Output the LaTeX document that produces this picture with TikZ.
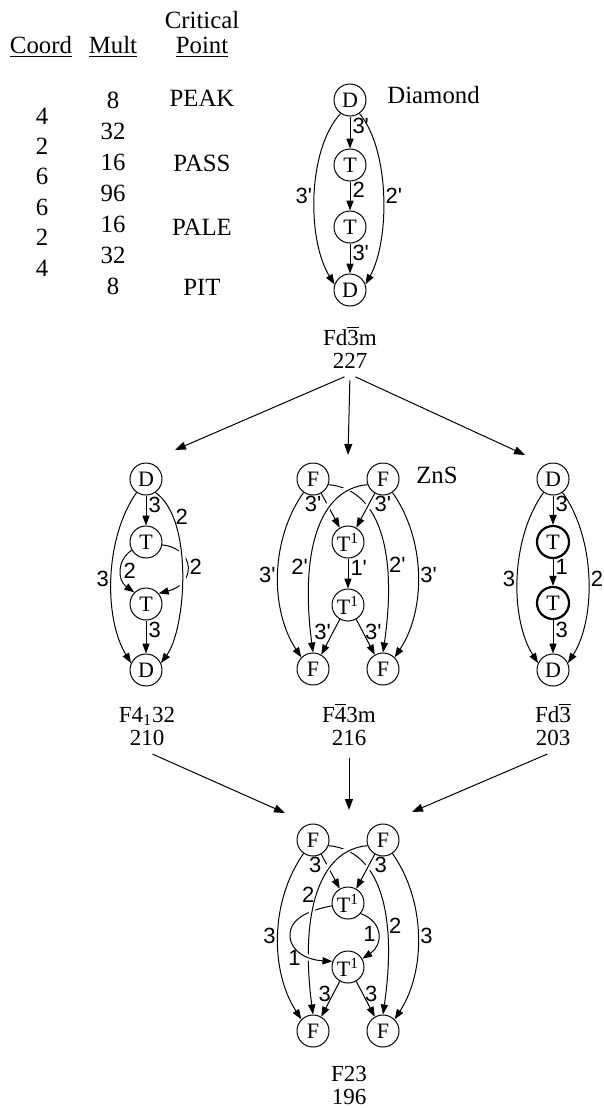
\documentclass[tikz,border=0pt]{standalone}
\usepackage{fontspec}
\setmainfont{Liberation Serif}
\setsansfont{Liberation Sans}
\usetikzlibrary{arrows.meta}

\newcommand\barred[1]{$\overline{\mbox{#1}}$}
\newcommand\pr{\textquotesingle}

\tikzset{
  site/.style={circle,draw,line width=0.5pt,minimum size=16pt,inner sep=0pt,
    font=\fontsize{11}{11}\selectfont},
  heavy/.style={site,line width=1.1pt},
  bond/.style={line width=0.5pt,-{Triangle[length=5pt,width=3.6pt]}},
  bridge/.style={preaction={draw,white,line width=3pt,-,shorten <=2.5pt,shorten >=2.5pt}},
  wt/.style={font=\fontsize{11}{11}\sffamily,inner sep=1pt},
  num/.style={font=\fontsize{12.4}{12.4}\selectfont,inner sep=0pt},
  head/.style={num,anchor=base},
  group/.style={align=center,anchor=base,inner sep=3pt,
    font=\fontsize{11.5}{11.5}\selectfont},
  subgroup/.style={line width=0.5pt,-{Triangle[length=5.5pt,width=4pt]},shorten <=3pt}
}

\begin{document}
\begin{tikzpicture}[x=0.5pt,y=-0.5pt]
\useasboundingbox (0,0) rectangle (604,1108);

% critical point table
\node[head] (coord) at (41,53) {\underline{Coord}};
\node[head] (mult) at (113,53) {\underline{Mult}};
\node[head] (crit) at (202,28) {Critical};
\node[head] (point) at (202,53) {\underline{Point}};
\foreach \c [count=\i from 0] in {4,2,6,6,2,4}
  \node[num] (coord\i) at (42,116+30.4*\i) {\c};
\foreach \m [count=\i from 0] in {8,32,16,96,16,32,8}
  \node[num] (mult\i) at (113,100+31.1*\i) {\m};
\foreach \p/\y in {PEAK/98,PASS/163,PALE/227,PIT/287}
  \node[num] (\p) at (202,\y) {\p};

% Fd-3m (diamond)
\begin{scope}[shift={(350,100)}]
  \node[site] (D227a) at (0,0) {D};
  \node[site] (T227a) at (0,65) {T};
  \node[site] (T227b) at (0,127) {T};
  \node[site] (D227b) at (0,190) {D};
  \draw[bond] (D227a) -- node[wt,right,pos=0.3] {3\pr} (T227a);
  \draw[bond] (T227a) -- node[wt,right,pos=0.3] {2} (T227b);
  \draw[bond] (T227b) -- node[wt,right,pos=0.3] {3\pr} (D227b);
  \draw[bond] (D227a.235) .. controls (-43,50) and (-43,140) .. node[wt,left] {3\pr} (D227b.160);
  \draw[bond] (D227a.-55) .. controls (40,50) and (40,140) .. node[wt,right] {2\pr} (D227b.20);
\end{scope}
\node[num,anchor=west] (diamond) at (387,95) {Diamond};
\node[group] (g227) at (350,368) {Fd\barred{3}m\\227};

% F4_132
\begin{scope}[shift={(146,479)}]
  \node[site] (D210a) at (0,0) {D};
  \node[site] (T210a) at (0,63) {T};
  \node[site] (T210b) at (0,125) {T};
  \node[site] (D210b) at (0,191) {D};
  \draw[bond] (D210a) -- node[wt,right,pos=0.3] {3} (T210a);
  \draw[bond] (T210b) -- node[wt,right,pos=0.3] {3} (D210b);
  \draw[bond] (T210a.210) .. controls (-29,81) and (-29,101) .. node[wt,right] {2} (T210b.135);
  \draw[bond] (T210a.-10) .. controls (50,70) and (50,105) .. node[wt,right] {2} (T210b.40);
  \draw[bond] (D210a.235) .. controls (-42,60) and (-42,140) .. node[wt,left] {3} (D210b.155);
  \draw[bond,bridge] (D210a.-55) .. controls (48,40) and (40,150) .. node[wt,right,pos=0.2] {2} (D210b.25);
\end{scope}
\node[group] (g210) at (147,745) {F4\textsubscript{1}32\\210};

% F-43m (ZnS)
\begin{scope}[shift={(348,479)}]
  \node[site] (F216a) at (-35,0) {F};
  \node[site] (F216b) at (35,0) {F};
  \node[site] (T216a) at (0,63) {T\textsuperscript{1}};
  \node[site] (T216b) at (0,126) {T\textsuperscript{1}};
  \node[site] (F216c) at (-35,190) {F};
  \node[site] (F216d) at (35,190) {F};
  \draw[bond] (F216a.-20) .. controls (30,10) and (50,70) .. node[wt,right,pos=0.67] {2\pr} (F216d.north);
  \draw[bond] (F216a.-60) -- node[wt,left=1.5pt,pos=0.3] {3\pr} (T216a.120);
  \draw[bond,bridge] (F216b.240) -- node[wt,right=1.5pt,pos=0.3] {3\pr} (T216a.60);
  \draw[bond,bridge] (F216b.200) .. controls (-30,10) and (-48,75) .. node[wt,left,pos=0.67] {2\pr} (F216c.north);
  \draw[bond] (F216a.235) .. controls (-78,61) and (-78,131) .. node[wt,left] {3\pr} (F216c.135);
  \draw[bond] (F216b.-55) .. controls (78,61) and (78,131) .. node[wt,right] {3\pr} (F216d.45);
  \draw[bond] (T216a) -- node[wt,right,pos=0.3] {1\pr} (T216b);
  \draw[bond] (T216b.240) -- node[wt,left,pos=0.35] {3\pr} (F216c.60);
  \draw[bond] (T216b.-60) -- node[wt,right,pos=0.35] {3\pr} (F216d.120);
\end{scope}
\node[num] (zns) at (437,475) {ZnS};
\node[group] (g216) at (349,745) {F\barred{4}3m\\216};

% Fd-3
\begin{scope}[shift={(553,479)}]
  \node[site] (D203a) at (0,0) {D};
  \node[heavy] (T203a) at (0,63) {T};
  \node[heavy] (T203b) at (0,124) {T};
  \node[site] (D203b) at (0,191) {D};
  \draw[bond] (D203a) -- node[wt,right,pos=0.3] {3} (T203a);
  \draw[bond] (T203a) -- node[wt,right,pos=0.3] {1} (T203b);
  \draw[bond] (T203b) -- node[wt,right,pos=0.3] {3} (D203b);
  \draw[bond] (D203a.235) .. controls (-43,60) and (-43,140) .. node[wt,left] {3} (D203b.155);
  \draw[bond] (D203a.-55) .. controls (43,60) and (43,140) .. node[wt,right] {2} (D203b.25);
\end{scope}
\node[group] (g203) at (553,745) {Fd\barred{3}\\203};

% F23
\begin{scope}[shift={(348,840)}]
  \node[site] (F196a) at (-35,0) {F};
  \node[site] (F196b) at (35,0) {F};
  \node[site] (T196a) at (0,63) {T\textsuperscript{1}};
  \node[site] (T196b) at (0,127) {T\textsuperscript{1}};
  \node[site] (F196c) at (-35,191) {F};
  \node[site] (F196d) at (35,191) {F};
  \coordinate (L196) at (-58,95);
  \draw[bond] (F196a.-20) .. controls (30,10) and (50,70) .. node[wt,right,pos=0.67] {2} (F196d.north);
  \draw[bond] (F196a.-60) -- node[wt,left=1.5pt,pos=0.3] {3} (T196a.120);
  \draw[line width=0.5pt] (T196a.190) .. controls (-38,70) and (-58,78) .. (L196);
  \draw[bond,bridge] (F196b.240) -- node[wt,right=1.5pt,pos=0.3] {3} (T196a.60);
  \draw[bond,bridge] (F196b.200) .. controls (-30,10) and (-48,75) .. node[wt,left,pos=0.5] {2} (F196c.north);
  \draw[bond,bridge] (L196) .. controls (-58,112) and (-40,120) .. node[wt,below,pos=0.3] {1} (T196b.160);
  \draw[bond] (T196a.-40) .. controls (36,82) and (35,105) .. node[wt,left] {1} (T196b.30);
  \draw[bond] (F196a.235) .. controls (-78,61) and (-78,131) .. node[wt,left] {3} (F196c.135);
  \draw[bond] (F196b.-55) .. controls (78,61) and (78,131) .. node[wt,right] {3} (F196d.45);
  \draw[bond] (T196b.240) -- node[wt,left,pos=0.35] {3} (F196c.60);
  \draw[bond] (T196b.-60) -- node[wt,right,pos=0.35] {3} (F196d.120);
\end{scope}
\node[group] (g196) at (349,1104) {F23\\196};

% subgroup arrows
\coordinate (in210) at (175,450);
\coordinate (in216) at (348,455);
\coordinate (in203) at (525,455);
\foreach \g in {210,216,203}
  \draw[subgroup] (g227.south) -- (in\g);
\coordinate (in196a) at (285,813);
\coordinate (in196b) at (349,810);
\coordinate (in196c) at (412,812);
\draw[subgroup] (g210.south) -- (in196a);
\draw[subgroup] (g216.south) -- (in196b);
\draw[subgroup] (g203.south) -- (in196c);
\end{tikzpicture}
\end{document}
